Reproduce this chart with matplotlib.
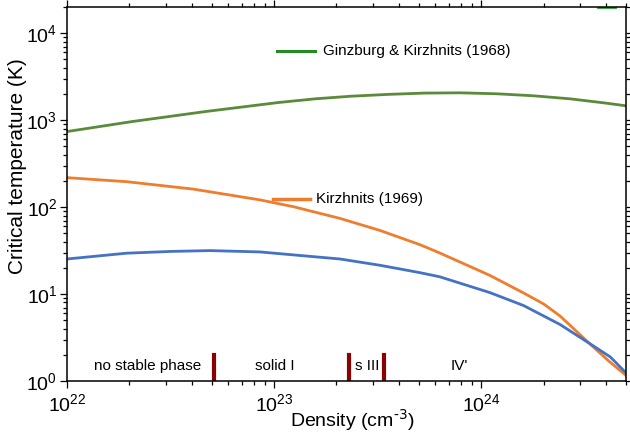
import numpy as np
import matplotlib.pyplot as plt

plt.rcParams['font.family'] = ['Liberation Sans', 'DejaVu Sans']
plt.rcParams['mathtext.default'] = 'regular'

# densities (cm^-3) and critical temperatures (K)
n_blue = [1.0e22, 1.94e22, 3.16e22, 4.9e22, 8.55e22, 1.26e23, 2.08e23, 3.25e23, 5.07e23, 6.3e23,
          1.1e24, 1.6e24, 2.4e24, 3.37e24, 4.2e24, 5.0e24]
T_blue = [25.3, 29.5, 30.9, 31.6, 30.5, 28.1, 25.3, 21.4, 17.6, 15.8,
          10.4, 7.38, 4.47, 2.66, 1.89, 1.24]

n_orange = [1.0e22, 1.94e22, 4.07e22, 8.55e22, 1.24e23, 2.08e23, 3.25e23, 5.07e23, 6.3e23,
            1.1e24, 1.6e24, 2.0e24, 2.4e24, 2.8e24, 3.37e24, 4.15e24, 5.0e24]
T_orange = [218, 196, 161, 121, 101, 74.1, 53.8, 36.9, 29.7,
            16.4, 10.3, 7.7, 5.6, 3.98, 2.63, 1.68, 1.16]

n_green = [1.0e22, 2.07e22, 4.67e22, 1.05e23, 1.58e23, 2.35e23, 3.55e23, 5.3e23, 7.9e23,
           1.19e24, 1.79e24, 2.68e24, 4.02e24, 5.0e24]
T_green = [739, 964, 1256, 1595, 1758, 1884, 1977, 2046, 2062,
           2009, 1905, 1759, 1567, 1461]

# stray green piece at the top edge
n_green_top = [3.67e24, 4.44e24]
T_green_top = [2.0e4, 2.0e4]

# phase boundaries and labels
phase_bounds = [5.1e22, 2.31e23, 3.4e23]
phase_labels = ['no stable phase', 'solid I', 's III', "IV'"]
phase_label_n = [2.45e22, 1.01e23, 2.81e23, 7.8e23]

fig = plt.figure(figsize=(6.3, 4.45), dpi=100)
ax = fig.add_axes([67/630, 1 - 381/445, (626 - 67)/630, (381 - 7)/445])

ax.plot(n_green, T_green, color='#5B8A3A', lw=2.0)
ax.plot(n_orange, T_orange, color='#EE7D2E', lw=2.0)
ax.plot(n_blue, T_blue, color='#4472C4', lw=2.0)
ax.plot(n_green_top, T_green_top, color='#1FA01F', lw=2.0)

for nb in phase_bounds:
    ax.plot([nb, nb], [1, 2], color='#8B0000', lw=3.0)
for lab, nl in zip(phase_labels, phase_label_n):
    ax.text(nl, 1.48, lab, ha='center', va='center', fontsize=11)

# in-plot legend entries
ax.plot([1.03e23, 1.58e23], [6300, 6300], color='#228B22', lw=2.2)
ax.text(1.73e23, 6300, 'Ginzburg & Kirzhnits (1968)', va='center', fontsize=11)
ax.plot([0.99e23, 1.49e23], [124, 124], color='#EE7D2E', lw=2.5)
ax.text(1.6e23, 124, 'Kirzhnits (1969)', va='center', fontsize=11)

ax.set_xscale('log')
ax.set_yscale('log')
ax.set_xlim(1e22, 5e24)
ax.set_ylim(1, 2e4)

ax.tick_params(which='both', direction='out', top=True, right=True,
               labeltop=False, labelright=False, width=0.9, labelsize=14)
ax.tick_params(which='major', length=5)
ax.tick_params(which='minor', length=3.2)
ax.tick_params(axis='y', pad=2)
for s in ax.spines.values():
    s.set_linewidth(1.1)

ax.set_xlabel(r'Density (cm$^{\text{-3}}$)', fontsize=14, va='center')
ax.xaxis.set_label_coords(0.51, -0.105)
ax.set_ylabel('Critical temperature (K)', fontsize=15, va='center')
ax.yaxis.set_label_coords(-0.0877, 0.575)

fig.savefig('out.png', dpi=100)
